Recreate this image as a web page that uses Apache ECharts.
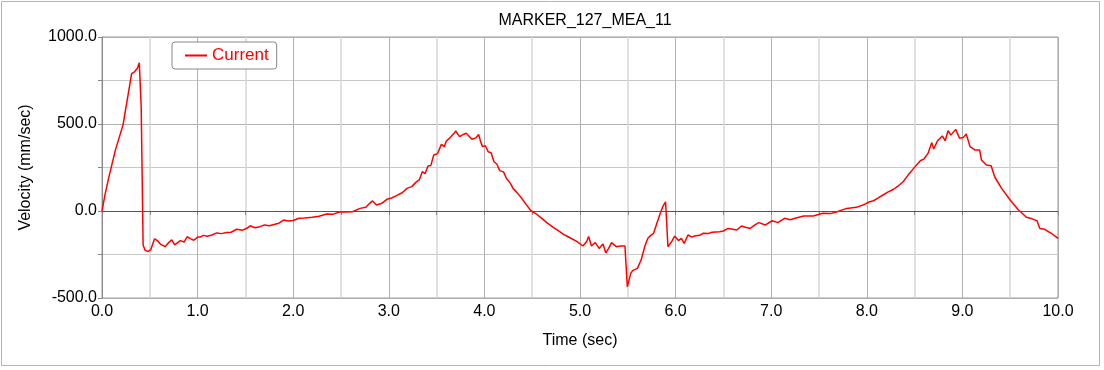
<!DOCTYPE html>
<html>
<head>
<meta charset="utf-8">
<script src="https://cdn.jsdelivr.net/npm/echarts@6/dist/echarts.min.js"></script>
<style>
  html, body { margin: 0; padding: 0; background: #fff; }
  #chart { width: 1104px; height: 370px; }
</style>
</head>
<body>
<div id="chart"></div>
<script>
// [time (sec), velocity (mm/sec)], split by stretch
const launch = [
  [0, 0], [0.03, 90], [0.07, 190], [0.14, 350], [0.22, 495], [0.31, 790], [0.34, 800],
  [0.37, 820], [0.39, 852], [0.40, 845], [0.41, 600], [0.43, -195], [0.45, -225],
  [0.48, -234], [0.51, -222], [0.55, -160], [0.58, -170], [0.61, -190], [0.66, -205],
  [0.70, -180], [0.73, -166], [0.76, -195], [0.78, -188], [0.82, -170], [0.86, -178],
  [0.89, -148], [0.93, -160], [0.96, -168], [1.00, -150]
];
const firstRise = [
  [1.03, -150], [1.06, -140], [1.10, -145], [1.15, -138], [1.20, -126], [1.25, -130],
  [1.30, -124], [1.35, -122], [1.41, -105], [1.47, -110], [1.52, -98], [1.55, -85],
  [1.60, -96], [1.65, -90], [1.70, -80], [1.75, -85], [1.80, -78], [1.85, -70],
  [1.90, -52], [1.95, -58], [2.00, -55], [2.06, -42], [2.12, -40], [2.20, -36],
  [2.27, -30], [2.35, -17], [2.42, -18], [2.49, -4], [2.55, -6], [2.62, -4], [2.70, 15],
  [2.76, 22], [2.80, 44], [2.83, 58], [2.87, 34], [2.93, 45], [2.98, 67]
];
const firstPeak = [
  [3.03, 75], [3.08, 88], [3.14, 105], [3.19, 130], [3.24, 140], [3.28, 163], [3.32, 180],
  [3.35, 226], [3.38, 215], [3.41, 259], [3.44, 262], [3.47, 322], [3.51, 330],
  [3.55, 383], [3.58, 370], [3.60, 400], [3.64, 421], [3.68, 445], [3.70, 460],
  [3.74, 427], [3.78, 440], [3.81, 447], [3.84, 430], [3.87, 412], [3.91, 420],
  [3.94, 440], [3.96, 400], [3.98, 370], [4.01, 375], [4.04, 340], [4.07, 335],
  [4.10, 283], [4.13, 270], [4.16, 232], [4.20, 225], [4.23, 188], [4.27, 160],
  [4.30, 130], [4.35, 100], [4.39, 73], [4.44, 35], [4.49, 0], [4.55, -20], [4.60, -42],
  [4.66, -70], [4.72, -94], [4.78, -115], [4.84, -138], [4.90, -155], [4.97, -176]
];
const dip = [
  [5.03, -201], [5.07, -175], [5.09, -147], [5.12, -201], [5.16, -182], [5.20, -215],
  [5.24, -190], [5.27, -240], [5.30, -215], [5.33, -182], [5.38, -205], [5.42, -201],
  [5.47, -201], [5.485, -205], [5.495, -435], [5.53, -360], [5.55, -343], [5.60, -330],
  [5.64, -280], [5.68, -200], [5.71, -157], [5.74, -140], [5.77, -128], [5.81, -60],
  [5.84, -13], [5.87, 30], [5.895, 53], [5.92, -205], [5.96, -175], [5.99, -144]
];
const secondRise = [
  [6.03, -170], [6.06, -157], [6.09, -186], [6.13, -138], [6.17, -150], [6.20, -144],
  [6.25, -140], [6.29, -128], [6.34, -130], [6.38, -122], [6.46, -119], [6.50, -115],
  [6.55, -100], [6.60, -105], [6.64, -109], [6.69, -86], [6.74, -95], [6.78, -100],
  [6.83, -80], [6.87, -67], [6.94, -80], [7.01, -56], [7.07, -67], [7.14, -42],
  [7.20, -50], [7.25, -42], [7.34, -29], [7.44, -29], [7.54, -13], [7.62, -15],
  [7.69, -4], [7.79, 15], [7.89, 21], [7.96, 34]
];
const secondPeak = [
  [8.03, 53], [8.07, 59], [8.12, 75], [8.17, 92], [8.22, 108], [8.28, 125], [8.33, 145],
  [8.38, 168], [8.43, 205], [8.49, 245], [8.56, 289], [8.60, 300], [8.64, 331],
  [8.68, 393], [8.70, 356], [8.74, 404], [8.79, 431], [8.82, 404], [8.85, 461],
  [8.88, 436], [8.93, 469], [8.97, 418], [9.01, 423], [9.04, 443], [9.08, 370],
  [9.13, 351], [9.18, 351], [9.20, 293], [9.25, 264], [9.30, 260], [9.34, 194],
  [9.41, 130], [9.50, 63], [9.58, 10], [9.67, -36], [9.73, -45], [9.78, -56],
  [9.81, -100], [9.86, -105], [9.93, -128], [10.0, -157]
];
const xRange = [0, 10, 1];      // min, max, interval
const yRange = [-500, 1000, 500];

const chart = echarts.init(document.getElementById('chart'));
const font = '"Liberation Sans", Arial, sans-serif';

const curve = [].concat(launch, firstRise, firstPeak, dip, secondRise, secondPeak);

const option = {
  backgroundColor: '#fff',
  animation: false,
  title: {
    text: 'MARKER_127_MEA_11',
    left: 580,
    top: 8,
    textAlign: 'center',
    textStyle: { fontFamily: font, fontSize: 16, fontWeight: 'normal', color: '#000' }
  },
  graphic: [{
    type: 'rect',
    shape: { x: 1.5, y: 1.5, width: 1098, height: 364 },
    style: { fill: 'none', stroke: '#b4b4b4', lineWidth: 1 },
    silent: true
  }],
  legend: {
    left: 172,
    top: 42,
    padding: [5, 8, 5, 13],
    borderColor: '#888',
    borderWidth: 1,
    borderRadius: 3,
    backgroundColor: '#fff',
    itemWidth: 22,
    itemHeight: 2,
    itemGap: 4,
    icon: 'rect',
    textStyle: { fontFamily: font, fontSize: 17, color: '#ff0000' },
    data: ['Current']
  },
  grid: {
    left: 102, right: 46, top: 37, bottom: 72,
    show: true, borderColor: '#999', borderWidth: 1
  },
  xAxis: {
    type: 'value',
    min: xRange[0], max: xRange[1], interval: xRange[2],
    name: 'Time (sec)',
    nameLocation: 'middle',
    nameGap: 35,
    nameTextStyle: { fontFamily: font, fontSize: 16, color: '#000' },
    axisLine: { show: true, lineStyle: { color: '#888' } },
    axisTick: { show: true, length: 4, lineStyle: { color: '#888' } },
    minorTick: { show: true, splitNumber: 2, length: 4, lineStyle: { color: '#888' } },
    axisLabel: {
      fontFamily: font, fontSize: 16, color: '#000', margin: 6,
      formatter: v => v.toFixed(1)
    },
    splitLine: { show: true, lineStyle: { color: '#b0b0b0' } },
    minorSplitLine: { show: true, lineStyle: { color: '#d6d6d6', width: 1.5 } }
  },
  yAxis: {
    type: 'value',
    min: yRange[0], max: yRange[1], interval: yRange[2],
    name: 'Velocity (mm/sec)',
    nameLocation: 'middle',
    nameGap: 68,
    nameTextStyle: { fontFamily: font, fontSize: 16, color: '#000' },
    axisLine: { show: true, lineStyle: { color: '#888' } },
    axisTick: { show: true, length: 4, lineStyle: { color: '#888' } },
    minorTick: { show: true, splitNumber: 2, length: 4, lineStyle: { color: '#888' } },
    axisLabel: {
      fontFamily: font, fontSize: 16, color: '#000', margin: 5,
      formatter: v => v.toFixed(1)
    },
    splitLine: { show: true, lineStyle: { color: '#b0b0b0' } },
    minorSplitLine: { show: true, lineStyle: { color: '#c8c8c8' } }
  },
  series: [{
    name: 'Current',
    type: 'line',
    data: curve,
    showSymbol: false,
    symbol: 'none',
    lineStyle: { color: '#ff0000', width: 1.5 },
    itemStyle: { color: '#ff0000' },
    markLine: {
      silent: true,
      symbol: 'none',
      label: { show: false },
      lineStyle: { color: '#555', type: 'solid', width: 1 },
      data: [{ yAxis: 0 }]
    }
  }]
};

chart.setOption(option);
</script>
</body>
</html>
